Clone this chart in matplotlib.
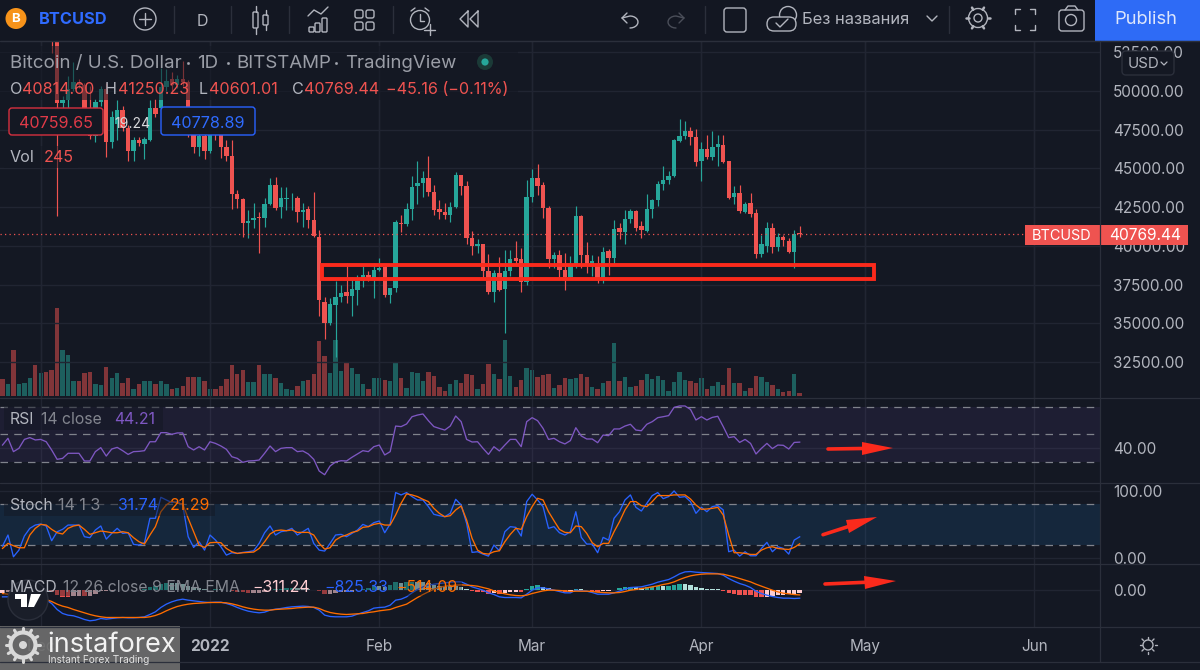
import numpy as np
import matplotlib
matplotlib.use("Agg")
import matplotlib.pyplot as plt
from matplotlib.patches import Rectangle, FancyBboxPatch, Circle, Polygon

plt.rcParams['font.family'] = ['Inter', 'DejaVu Sans']

# days since 1 Jan 2022, one candle per day
first_day = -38

opens = [59000,58300,58900,54000,57200,57300,57800,56900,57200,56500,
53600,49200,49400,50100,50600,50400,47600,47100,49300,50100,
46700,47900,48800,47600,46100,46840,46600,46850,48900,48900,
50250,50800,50400,50800,50600,47300,46400,47100,
46150,47700,47300,46400,45780,43350,43030,41450,41650,41830,
41800,42710,43940,42540,43050,43060,43080,42170,42350,41680,
40600,36400,35000,36200,36680,37000,36770,37150,37700,38130,
37920,38450,38650,36840,37270,41500,41400,42390,43850,44060,
44390,43500,42370,42210,42020,42520,44560,43890,40520,39980,
40100,38370,37010,38260,37230,38370,39230,39120,37680,43160,
44390,43910,42470,39120,39380,38410,37980,38690,41960,39440,
38800,38690,37940,39700,39230,41160,40900,41760,42240,41270,
40950,42390,42950,44020,44280,44490,46760,47120,47400,47030,
45500,46260,45760,46360,46490,45460,43130,43420,42210,42770,
42130,39480,40020,41160,39910,40560,40340,39610,40814.6]

highs = [59500,60000,59300,57500,58200,59000,59000,59000,57600,57500,
53900,49700,51000,51900,50800,50500,50300,49500,50300,50500,
48700,49400,49000,47800,47000,47000,47000,49400,49500,51500,
51400,51200,51050,51950,50700,47400,47300,48900,
48000,47900,47600,46840,46840,43600,43100,42330,42750,42200,
43080,44370,44430,43830,43770,43440,43200,42750,42550,43460,
41030,36730,36630,37700,37500,38880,38000,38130,38670,38350,
38880,39200,38750,37100,41680,42000,42750,44540,45460,44860,
45830,43960,42990,42770,42840,44770,44600,44170,40990,40450,
40150,39480,38470,39290,39720,39760,40300,39870,44240,44970,
45310,44100,42560,39610,39720,39550,39330,42560,42000,40240,
39440,39330,39910,39800,41660,41480,42340,42410,42340,41590,
43350,43030,44210,45140,44820,46900,48210,48080,47680,47550,
46710,47180,47400,47180,47180,45500,43890,43960,42800,43420,
42390,40670,41550,41480,40840,40670,40520,41050,41250.23]

lows = [58000,57700,53600,53700,55900,56000,55900,56500,55900,52430,
41960,47800,48700,50000,50200,47400,46900,46700,49000,45720,
46300,46840,47400,45500,45500,46450,45600,46800,48300,48700,
50000,50000,50200,50300,47000,45980,45830,45600,
46000,46840,45650,45500,42370,42470,40600,40500,41150,39570,
41250,42650,42330,41790,42330,42330,41570,41250,41150,40560,
35450,34000,34900,32800,36400,36300,35500,36200,37330,37700,
36630,38400,36690,36300,37050,40900,41300,41700,42700,43160,
43200,42020,41760,41740,41550,42450,43310,40090,39440,39550,
37940,36860,36390,37080,34350,38040,38690,37010,37460,42820,
43310,41810,38580,38580,37980,37180,37900,38580,38580,38260,
38040,37570,37610,38150,38860,40450,40090,41480,40950,40520,
40900,41810,42600,43630,44020,44450,46690,46900,46540,45180,
44210,45610,45570,45140,45350,43050,42730,42130,42130,41870,
39230,39290,39590,39550,39660,40020,39550,38540,40601.01]

closes = [58300,58900,54000,57200,57300,57800,56900,57200,56500,53600,
49200,49400,50100,50600,50400,47600,47100,49300,50100,46700,
48340,48800,47600,46130,46840,46650,46900,48900,48500,50250,
50650,50400,50800,50600,47200,46400,47100,46150,
47700,47300,46400,45800,43350,43030,41465,41600,41830,41800,
42710,43940,42430,43080,43060,43080,42170,42300,41640,40650,
36480,35000,36260,36680,36950,36770,37200,37700,38130,37920,
38450,38600,36840,37270,41510,41400,42390,43830,44060,44390,
43460,42340,42190,42020,42520,44560,43870,40520,39980,40130,
38370,37010,38260,37180,38370,39180,39050,37680,43160,44390,
43890,42430,39120,39400,38410,37980,38690,41960,39400,38860,
39000,37940,39610,39230,41120,40900,41760,42240,41160,41010,
42390,42950,44020,44280,44540,46810,47120,47400,47010,45420,
46260,45740,46390,46580,45420,43100,43420,42240,42730,42060,
39480,40090,41160,39910,40540,40370,39610,40770,40769.44]

volumes = [1500,1050,4140,1110,1200,1650,2790,2040,2160,2340,
7890,4110,3690,1350,1350,2100,2160,1050,990,2640,
1650,2100,1200,1650,660,1050,1380,1380,1050,1380,
1110,660,750,900,1740,1710,1740,1380,
660,600,900,1500,2790,2010,2340,1260,1260,2790,
2010,2010,1590,1140,600,540,900,1350,1410,1950,
4950,3600,2040,5040,2250,2940,2490,1950,1050,600,
1650,1650,1410,1350,3090,1590,750,2160,2100,1350,
2160,1800,810,450,1110,1440,1140,1980,1860,660,
1080,2850,1950,1500,5010,1800,810,1440,2550,2310,
1680,1860,1980,690,990,1620,1500,1620,1980,1710,
840,660,1200,1380,4770,1350,1740,840,900,1440,
1950,1560,1800,1410,450,1290,2160,1410,1320,1140,
1620,660,900,1230,960,2520,1170,1170,480,720,
1830,1740,1290,990,660,360,450,1950,245]

rsi = [42.1,47,37.3,39.7,46.2,47.5,45.8,46.2,44.5,38.5,
31.7,32.4,36.1,36.1,36.1,30.5,30.5,37.3,40.2,34.1,
39.2,40.4,38,35.3,37.3,37.5,38,44.5,44.5,51.1,
51.1,49.9,50.9,50.9,40.9,38.5,40.9,38.5,
44.5,43.3,41.4,39,33.6,32.4,29.5,30.5,30.7,31.2,
36.1,41.4,37.3,39.7,40.2,40.2,37.3,37.8,35.6,31.7,
23.2,20.5,26.9,29.8,30.7,30.5,33.2,35.6,38,37.3,
40.9,42.1,34.9,37.3,55.9,55.5,57.4,62.7,63.9,64.7,
59.8,55.5,54.2,53,55.9,63.2,59.1,46.2,44.3,44.5,
39.7,35.3,40.9,37.8,42.1,46.2,46.2,40.9,59.1,62,
59.8,54.2,46.2,47,44.5,42.9,45.3,54.7,48.7,46.5,
46.5,43.8,49.4,48.9,53.8,53.8,55.9,57.2,53,52.5,
57.2,59.1,62,62.7,63.5,69.5,70.5,70.5,68,60.3,
62.7,60.3,62.2,63,55.5,47.5,48.2,44,46.2,43.3,
35.6,39.7,43.3,39.5,42.1,41.9,39.2,44,44.21]

stoch_k = [18,34.4,2.1,12,32.9,44.3,49.2,50.7,47.8,25.9,
39.3,42.8,49.2,49.2,49.2,31.9,30.4,41.8,47.8,28.4,
36.8,44.3,36.8,37.8,20.5,19.5,23,59.2,59.2,90.4,
86.4,82.5,84,79,31.9,16,24.4,12,
34.4,26.9,17,4.6,8.1,7.1,8.6,9.6,11.1,22,
37.8,47.8,34.4,39.3,40.8,44.3,34.4,39.3,44.3,22,
12,10.6,22,34.4,35.4,31.9,36.8,41.8,50.2,46.8,
52.7,55.2,37.8,50.7,97.4,93.9,97.4,91.4,86.4,86.4,
76.5,65.1,63.1,61.6,66.6,87.4,79,51.7,8.6,9.6,
6.1,3.1,19.5,11.1,39.3,46.8,45.8,32.9,84,94.9,
86.4,76.5,44.3,46.8,37.8,34.4,39.3,69,30.9,21,
21,8.1,30.9,26.9,59.2,69,86.4,93.9,75.5,70,
81.5,92.9,97.4,88.4,91.4,99.8,90.4,91.4,84,66.6,
75.5,69,76.5,78,71.6,9.6,12,3.1,9.6,3.6,
3.6,14.5,23.5,9.6,17,14.5,6.1,26.9,31.74]

stoch_d = [14.5,22,18.5,15.5,15.5,34.4,44.3,50.2,49.2,42.8,
37.8,35.9,44.3,47.8,49.2,42.8,35.4,37.8,40.3,39.3,
37.8,37.8,39.3,37.8,30.4,24.4,21,34.4,46.8,69,
79,85,81.5,80.5,59.2,39.3,19.5,16,
23,23.5,23,14.5,9.6,7.1,8.1,8.6,9.1,14.5,
24.4,35.9,40.8,41.8,40.8,41.8,38.3,38.3,38.3,34.4,
22,13.5,15.5,26.9,31.9,34.4,38.3,40.3,45.8,46.8,
50.2,51.7,49.2,49.2,64.1,81.5,95.4,93.9,91.4,87.4,
84,74,66.6,61.6,63.1,71.6,77.5,56.7,29.4,12,
7.1,6.1,9.6,11.1,24.4,35.4,44.3,42.8,61.6,76.5,
88.9,86.4,69,55.7,42.8,38.3,37.8,47.8,46.8,36.8,
23,17,22,22,39.3,54.2,71.6,84,84,78,
76.5,84,92.9,92.9,92.9,93.9,93.9,93.9,87.9,79,
72.6,73,74,75.5,64.1,34.4,8.1,8.1,7.1,5.6,
5.6,12,15.5,17,14.5,13.5,13,16,21.29]

macd = [-697,-697,-697,-761,-824,-856,-919,-951,-983,-1331,
-1902,-2282,-2441,-2504,-2663,-2853,-2980,-2916,-2758,-2821,
-2758,-2695,-2663,-2695,-2695,-2663,-2599,-2378,-2124,-1712,
-1395,-1173,-1014,-919,-1014,-1078,-1141,-1205,
-1236,-1205,-1205,-1331,-1490,-1712,-1902,-2061,-2156,-2219,
-2156,-1965,-1870,-1807,-1712,-1648,-1617,-1585,-1617,-1712,
-1965,-2441,-2568,-2599,-2599,-2599,-2536,-2346,-2187,-2029,
-1775,-1712,-1680,-1490,-1014,-919,-697,-317,0,254,
412,507,571,634,697,729,729,507,254,95,
-63,-317,-476,-697,-761,-761,-761,-793,-444,-63,
159,159,63,-63,-190,-317,-317,-63,-127,-159,
-285,-444,-444,-444,-317,-159,32,190,222,254,
380,507,697,824,951,1205,1490,1680,1712,1648,
1617,1585,1553,1522,1363,1046,793,571,412,190,
-159,-380,-539,-666,-761,-824,-824,-856,-825.33]

signal = [-380,-444,-507,-571,-634,-697,-793,-888,-951,-1141,
-1395,-1585,-1712,-1902,-2061,-2219,-2378,-2504,-2599,-2663,
-2663,-2663,-2663,-2663,-2663,-2663,-2663,-2599,-2473,-2282,
-2029,-1807,-1617,-1490,-1395,-1331,-1300,-1268,
-1236,-1236,-1236,-1268,-1363,-1490,-1648,-1775,-1870,-1934,
-1965,-1965,-1902,-1870,-1839,-1807,-1744,-1712,-1680,-1680,
-1807,-2029,-2187,-2282,-2346,-2378,-2346,-2314,-2282,-2187,
-2124,-2029,-1965,-1902,-1712,-1553,-1395,-1078,-761,-476,
-222,32,190,317,380,412,444,412,380,317,
190,63,-127,-285,-412,-507,-571,-602,-539,-380,
-254,-127,-63,-63,-95,-127,-190,-159,-159,-159,
-190,-254,-285,-317,-317,-285,-190,-63,0,95,
159,254,349,476,571,729,951,1141,1300,1395,
1458,1490,1490,1490,1458,1331,1205,1046,888,729,
507,317,127,-63,-222,-349,-412,-476,-514.09]

price_ticks = [32500,35000,37500,40000,42500,45000,47500,50000,52500]
month_days = [-31,0,31,59,90,120,151]
month_names = ["Dec","2022","Feb","Mar","Apr","May","Jun"]

BG = '#141823'
GRID = '#212532'
SEP = '#2b2f3b'
TXT = '#b2b5be'
RED = '#ef5350'
GREEN = '#26a69a'
BLUE = '#2962ff'
ORANGE = '#ff6d00'
PURPLE = '#7e57c2'
MARK = '#fb2a1c'

days = np.arange(len(closes)) + first_day
opens, highs, lows, closes = map(np.array, (opens, highs, lows, closes))
volumes, macd, signal = map(np.array, (volumes, macd, signal))
colors = np.where(closes >= opens, GREEN, RED)

fig = plt.figure(figsize=(12, 6.7), dpi=100, facecolor=BG)
x_left = -210 / 5.46
x_right = 890 / 5.46


def pane(top, bottom):
    a = fig.add_axes([0, 1 - bottom / 670, 1100 / 1200, (bottom - top) / 670])
    a.set_xlim(x_left, x_right)
    a.set_facecolor('none')
    for s in a.spines.values():
        s.set_visible(False)
    a.set_xticks(month_days)
    a.set_xticklabels([])
    a.grid(True, color=GRID, lw=1)
    a.set_axisbelow(True)
    a.yaxis.tick_right()
    a.tick_params(length=0, labelsize=11, labelcolor=TXT, pad=9.5)
    return a


# volume sits under the candles in the same pane
ax_vol = pane(41, 398)
ax_vol.set_ylim(-180, 31950)
ax_vol.set_yticks([])
ax_vol.bar(days, volumes, width=0.8, color=colors, alpha=0.5, lw=0)

ax = pane(41, 398)
ax.set_ylim(30176, 53228)
ax.set_yticks(price_ticks)
ax.set_yticklabels(["%.2f" % p for p in price_ticks])
ax.vlines(days, lows, highs, colors=colors, lw=0.85)
ax.bar(days, np.maximum(np.abs(closes - opens), 40), bottom=np.minimum(opens, closes),
       width=0.8, color=colors, lw=0)
ax.axhline(closes[-1], color=RED, lw=0.9, ls=(0, (1, 2.6)))
ax.add_patch(Rectangle((20.6, 37850), 101.1, 925, fill=False, ec=MARK, lw=2.8, zorder=5))

ax_rsi = pane(398, 483)
ax_rsi.set_ylim(14.5, 76.3)
ax_rsi.set_yticks([40])
ax_rsi.set_yticklabels(["40.00"])
ax_rsi.axhspan(30, 70, color=PURPLE, alpha=0.1, lw=0)
for lvl in [30, 50, 70]:
    ax_rsi.axhline(lvl, color='#80838c', lw=0.9, ls=(0, (6, 5)))
ax_rsi.plot(days, rsi, color=PURPLE, lw=0.95)

ax_st = pane(483, 564)
ax_st.set_ylim(-8.6, 111.6)
ax_st.set_yticks([0, 100])
ax_st.set_yticklabels(["0.00", "100.00"])
ax_st.axhspan(20, 80, color='#2196f3', alpha=0.12, lw=0)
for lvl in [20, 80]:
    ax_st.axhline(lvl, color='#80838c', lw=0.9, ls=(0, (6, 5)))
ax_st.plot(days, stoch_k, color=BLUE, lw=0.95)
ax_st.plot(days, stoch_d, color=ORANGE, lw=0.95)

ax_m = pane(564, 627)
ax_m.set_ylim(-3570, 2430)
ax_m.set_yticks([0])
ax_m.set_yticklabels(["0.00"])
hist = macd - signal
prev = np.r_[hist[0], hist[:-1]]
hist_col = np.where(hist >= 0, np.where(hist > prev, GREEN, '#b2dfdb'),
                    np.where(hist < prev, RED, '#ffcdd2'))
ax_m.bar(days, hist, width=0.8, color=hist_col, lw=0)
ax_m.plot(days, macd, color=BLUE, lw=0.95)
ax_m.plot(days, signal, color=ORANGE, lw=0.95)
ax_m.set_xticklabels(month_names)
ax_m.tick_params(axis='x', labelsize=11, labelcolor=TXT, pad=8.3)
for t in ax_m.get_xticklabels():
    if t.get_text() == "2022":
        t.set_fontweight('bold')

# overlay in screen pixels for the interface around the chart
ui = fig.add_axes([0, 0, 1, 1], zorder=10)
ui.set_xlim(0, 1200)
ui.set_ylim(670, 0)
ui.axis('off')
ui.patch.set_alpha(0)


def label(x, y, s, color=TXT, size=11, ha='left', **kw):
    ui.text(x, y, s, color=color, fontsize=size, ha=ha, va='center', **kw)


def rect(x0, y0, x1, y1, **kw):
    kw.setdefault('lw', 0)
    ui.add_patch(Rectangle((x0, y0), x1 - x0, y1 - y0, **kw))


def line(xs, ys, color=TXT, lw=1.0):
    ui.plot(xs, ys, color=color, lw=lw, solid_capstyle='round')


def rbox(x0, y0, x1, y1, ec, fc='none', lw=1.0, r=3):
    ui.add_patch(FancyBboxPatch((x0, y0), x1 - x0, y1 - y0, boxstyle="round,pad=0,rounding_size=%g" % r,
                                ec=ec, fc=fc, lw=lw))


# panel separators
for yy in [41, 398, 483, 564, 627, 662]:
    line([0, 1200], [yy, yy], SEP, 0.9)
line([1100, 1100], [41, 662], SEP, 0.9)

# legends, with the dim backing they have on the chart
rect(0, 46, 518, 100, fc=BG, alpha=0.55)
rect(4, 146, 78, 168, fc=BG, alpha=0.5)
rect(4, 407, 163, 430, fc=BG, alpha=0.5)
rect(4, 494, 215, 516, fc=BG, alpha=0.5)
rect(4, 575, 462, 596, fc=BG, alpha=0.4)

label(10, 64, "Bitcoin / U.S. Dollar", size=13.5, alpha=0.85)
label(197, 64, "1D", size=13.5, alpha=0.85)
label(236, 64, "BITSTAMP", size=13.5, alpha=0.85)
label(345, 64, "TradingView", size=13.4, alpha=0.85)
for sx in [188, 228, 336]:
    ui.plot([sx], [63], 'o', ms=1.2, color=TXT, alpha=0.7)
ui.add_patch(Circle((485, 62), 8, fc='#1b3a37', lw=0))
ui.add_patch(Circle((485, 62), 3.6, fc=GREEN, lw=0))

for x, s, col in [(10, "O", TXT), (22, "40814.60", RED), (105, "H", TXT), (118, "41250.23", RED),
                  (199, "L", TXT), (209, "40601.01", RED), (292, "C", TXT), (304, "40769.44", RED),
                  (386, "\u221245.16 (\u22120.11%)", RED)]:
    label(x, 90, s, col, 11.6)

rbox(9, 108, 103, 135, '#d6303f', BG)
label(56, 123.5, "40759.65", '#e03a48', 11.6, ha='center')
label(132, 123.5, "19.24", '#d8d9dc', 10, ha='center')
rbox(161, 107, 255, 135, BLUE, BG)
label(208, 123.5, "40778.89", '#2f6bff', 11.6, ha='center')
label(10, 158, "Vol", size=11.6)
label(44, 158, "245", RED, 11.6)

label(10, 420, "RSI", size=11.3)
label(41, 420, "14 close", '#82858e', 11.4)
label(114, 420, "44.21", PURPLE, 11.4)
label(10, 506, "Stoch", size=11.3)
label(58, 506, "14 1 3", '#82858e', 11.6)
label(118, 506, "31.74", BLUE, 11.4)
label(170, 506, "21.29", ORANGE, 11.4)
label(10, 587, "MACD", size=11.3)
label(63, 587, "12 26 close 9 EMA EMA", '#82858e', 11.4)
label(252, 587, "\u2212311.24", '#ffcdd2', 11.4)
label(324, 587, "\u2212825.33", BLUE, 11.4)
label(396, 587, "\u2212514.09", ORANGE, 11.4)

# last price tags
rect(1025, 225, 1100, 245, fc=RED)
label(1062, 236, "BTCUSD", 'white', 10.4, ha='center')
rect(1100, 225, 1188, 245, fc=RED)
label(1145, 236, "40769.44", 'white', 11.2, ha='center')

rbox(1122, 51, 1174, 75, '#2b2f3b', BG, r=4)
label(1128, 64, "USD", size=10.8)
line([1161, 1164, 1167], [62, 65, 62], TXT, 0.9)

# red hand drawn arrows
line([828, 862], [449, 448.5], MARK, 2.6)
ui.add_patch(Polygon([(862, 442), (893, 448), (862, 455)], fc=MARK, lw=0))
line([823, 850], [534.7, 526], MARK, 2.6)
ui.add_patch(Polygon([(846, 520), (877, 517), (849, 533)], fc=MARK, lw=0))
line([825, 865], [584, 582.3], MARK, 2.6)
ui.add_patch(Polygon([(864, 576), (896, 581), (865, 589)], fc=MARK, lw=0))

# top toolbar
rect(0, 0, 1200, 41, fc='#131722')
line([0, 1200], [41, 41], SEP, 0.9)
ui.add_patch(Circle((16, 18.5), 10.5, fc='#f7931a', lw=0))
label(16, 19.5, "B", 'white', 9.5, ha='center', fontweight='bold')
label(39, 20, "BTCUSD", '#2f6bff', 11.8, fontweight='bold')
ui.add_patch(Circle((145, 19), 11, fc='none', ec=TXT, lw=1.0))
line([139, 151], [19, 19])
line([145, 145], [13, 25])
for sx in [174, 231, 289, 393, 705, 949]:
    line([sx, sx], [6, 33], '#2b2f3b', 1)
label(202, 21, "D", size=11.5, ha='center')
# candle icon
rbox(253, 12, 258, 28, TXT, r=1)
line([255.5, 255.5], [6, 12])
line([255.5, 255.5], [28, 34])
rbox(263, 15, 268, 25, TXT, r=1)
line([265.5, 265.5], [10, 15])
line([265.5, 265.5], [25, 30])
# indicators icon
line([308, 314, 321, 328], [16, 10, 14, 7])
for bx, by in [(309, 27), (315, 23), (322, 18)]:
    rbox(bx, by, bx + 5, 32, TXT, r=1)
# layout icon
for gx in [355, 366]:
    for gy in [10, 22]:
        rbox(gx, gy, gx + 8, gy + 8, TXT, r=2)
# alarm icon
ui.add_patch(Circle((420, 20), 9.5, fc='none', ec=TXT, lw=1.0))
line([420, 420, 424], [14, 21, 21])
line([411, 415], [11, 8])
line([425, 429], [8, 11])
line([424, 435], [30, 30])
line([429.5, 429.5], [24, 35])
# rewind
for rx in [460, 470]:
    line([rx + 8, rx, rx + 8, rx + 8], [11, 19, 27, 11])
# undo and redo, bent tails
tail = np.deg2rad(np.arange(-90, 91, 15))
line(np.r_[622, 630 + 8 * np.cos(tail)], np.r_[18, 22 + 4 * np.sin(tail) * 1.5 - 0], TXT)
line([627, 622, 627], [13, 18, 23])
line(np.r_[684, 676 - 8 * np.cos(tail)], np.r_[18, 22 + 4 * np.sin(tail) * 1.5 - 0], '#4a4e59')
line([679, 684, 679], [13, 18, 23], '#4a4e59')
rbox(724, 8, 746, 32, TXT, r=3)
# cloud
ui.add_patch(Circle((788, 15), 8.5, fc='none', ec=TXT, lw=1.0))
rbox(767, 17, 796, 31, TXT, '#131722', r=7)
line([776, 780, 788], [23, 27, 19])
label(802, 19.5, "\u0411\u0435\u0437 \u043d\u0430\u0437\u0432\u0430\u043d\u0438\u044f", size=11.9)
line([927, 932, 937], [16, 21, 16])
# gear
ui.add_patch(Circle((978, 18), 9.5, fc='none', ec=TXT, lw=1.0))
ui.add_patch(Circle((978, 18), 4, fc='none', ec=TXT, lw=1.0))
for ang in np.arange(0, 360, 60):
    a = np.deg2rad(ang)
    line([978 + 9.5 * np.cos(a), 978 + 12 * np.cos(a)], [18 + 9.5 * np.sin(a), 18 + 12 * np.sin(a)], TXT, 1.8)
# fullscreen corners
for fx, fy, dx, dy in [(1015, 9, 1, 1), (1035, 9, -1, 1), (1015, 30, 1, -1), (1035, 30, -1, -1)]:
    line([fx + 5 * dx, fx, fx], [fy, fy, fy + 5 * dy])
# camera
rbox(1059, 10, 1084, 31, TXT, r=3)
ui.add_patch(Circle((1071, 20), 5.5, fc='none', ec=TXT, lw=1.0))
line([1065, 1068, 1075, 1078], [10, 6, 6, 10])
rect(1095, 0, 1200, 41, fc='#2e6bf6')
label(1146, 19.5, "Publish", '#dde6fb', 13.2, ha='center')

# bottom right sun icon
ui.add_patch(Circle((1148, 645), 5, fc='none', ec=TXT, lw=1))
for ang in np.arange(0, 360, 45):
    a = np.deg2rad(ang)
    line([1148 + 6.5 * np.cos(a), 1148 + 8.5 * np.cos(a)], [645 + 6.5 * np.sin(a), 645 + 8.5 * np.sin(a)], TXT, 1)

# TradingView badge
ui.add_patch(Circle((28, 600), 20, fc='#1a1e29', ec='#2b2f3b', lw=1))
ui.add_patch(Polygon([(15, 594), (27, 594), (27, 607), (21, 607), (21, 599), (15, 599)], fc='white', lw=0))
ui.add_patch(Polygon([(31, 594), (41, 594), (34, 607), (28, 607)], fc='white', lw=0))

# instaforex watermark
rect(0, 626, 180, 670, fc='#6d6d6d', alpha=0.93)
ui.add_patch(Circle((23, 645), 12.5, fc='none', ec='#d9d9d9', lw=3))
ui.add_patch(Circle((23, 645), 4, fc='#d9d9d9', lw=0))
for ang in np.arange(0, 360, 30):
    a = np.deg2rad(ang)
    line([23 + 13 * np.cos(a), 23 + 17 * np.cos(a)], [645 + 13 * np.sin(a), 645 + 17 * np.sin(a)], '#d9d9d9', 2.2)
label(47, 645, "instaforex", '#f2f2f2', 19.6)
label(48, 660, "Instant Forex Trading", '#e2e2e2', 7.3)

fig.savefig("out.png", dpi=100, facecolor=BG)
